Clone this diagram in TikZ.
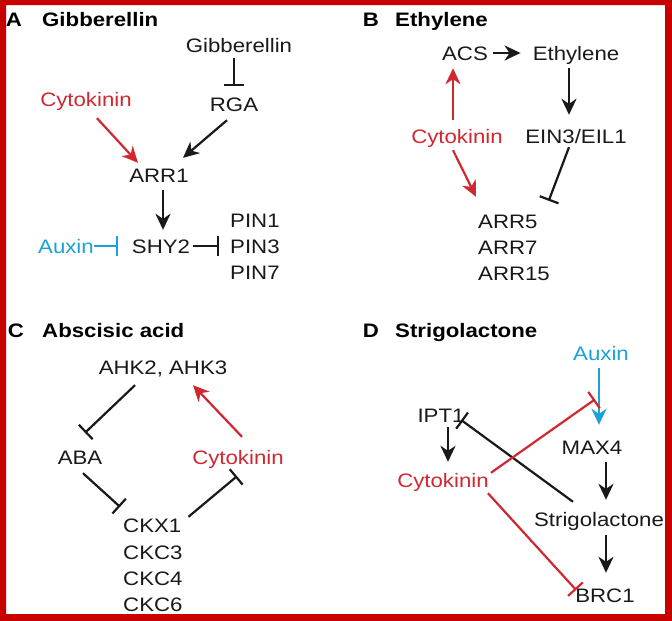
\documentclass[tikz,border=0pt]{standalone}
\usepackage{fontspec}
\setmainfont[FakeStretch=1.14]{Liberation Sans}
\usetikzlibrary{arrows.meta,calc}
\definecolor{ckred}{RGB}{208,40,48}
\definecolor{auxblue}{RGB}{28,162,212}
\definecolor{framered}{RGB}{200,0,0}
\definecolor{ink}{RGB}{25,25,25}
\tikzset{
  gene/.style={inner sep=0pt, text height=14pt, text depth=0pt, font=\fontsize{19.5pt}{23pt}\selectfont},
  head/.style={gene, text=black, font=\fontsize{19.5pt}{23pt}\selectfont\bfseries},
  act/.style={-{Stealth[length=16pt,width=15pt,inset=5pt]}, line width=2.2pt},
  inh/.style={-{Bar[width=20pt]}, line width=2.2pt},
}

\begin{document}
\begin{tikzpicture}[x=1pt, y=-1pt, color=ink]
  \useasboundingbox (0,0) rectangle (672,621);
  \fill[white] (0,0) rectangle (672,621);

  % A
  \node[head] (labA) at (14,20) {A};
  \node[head, anchor=west] (titA) at (42,20) {Gibberellin};
  \node[gene] (gibA) at (239,45) {Gibberellin};
  \node[gene] (rgaA) at (234,104) {RGA};
  \node[gene, text=ckred] (cytA) at (86,99) {Cytokinin};
  \node[gene] (arr1) at (159,175) {ARR1};
  \node[gene] (shy2) at (161,246) {SHY2};
  \node[gene, text=auxblue] (auxA) at (66,246) {Auxin};
  \node[gene, anchor=west] (pin1) at (230,220) {PIN1};
  \node[gene, anchor=west] (pin3) at (230,246) {PIN3};
  \node[gene, anchor=west] (pin7) at (230,272) {PIN7};
  \draw[inh, shorten <=6pt, shorten >=11pt] (gibA.south -| rgaA) -- (rgaA.north);
  \draw[act, ckred] ([shift={(11,12)}]cytA.south) -- ([shift={(-21,-5)}]arr1.north);
  \draw[act] ([shift={(-7,9)}]rgaA.south) -- ([shift={(24,-10)}]arr1.north);
  \draw[act] ([shift={(4,8)}]arr1.south) -- ([shift={(2,-9)}]shy2.north);
  \draw[inh, auxblue, shorten >=14pt] (auxA) -- (shy2);
  \draw[inh, shorten <=3pt, shorten >=11pt] (shy2) -- (pin3);

  % B
  \node[head] (labB) at (371,20) {B};
  \node[head, anchor=west] (titB) at (395,20) {Ethylene};
  \node[gene] (acs) at (465,53) {ACS};
  \node[gene] (eth) at (576,53) {Ethylene};
  \node[gene] (ein3) at (576,136) {EIN3/EIL1};
  \node[gene, text=ckred] (cytB) at (457,136) {Cytokinin};
  \node[gene, anchor=west] (arr5) at (478,221) {ARR5};
  \node[gene, anchor=west] (arr7) at (478,247) {ARR7};
  \node[gene, anchor=west] (arr15) at (478,273) {ARR15};
  \draw[act, shorten <=5pt, shorten >=12pt] (acs) -- (eth);
  \draw[act] ([shift={(-7,8)}]eth.south) -- ([shift={(-7,-14)}]ein3.north);
  \draw[act, ckred] ([shift={(-4,-9)}]cytB.north) -- ([shift={(-12,8)}]acs.south);
  \draw[act, ckred] ([shift={(-4,7)}]cytB.south) -- ([shift={(-2,-17)}]arr5.north west);
  \draw[inh] ([shift={(-7,4)}]ein3.south) -- ([shift={(11,-13)}]arr5.north east);

  % C
  \node[head] (labC) at (16,330) {C};
  \node[head, anchor=west] (titC) at (42,330) {Abscisic acid};
  \node[gene] (ahk) at (163,367) {AHK2, AHK3};
  \node[gene] (aba) at (80,457) {ABA};
  \node[gene, text=ckred] (cytC) at (238,457) {Cytokinin};
  \node[gene, anchor=west] (ckx1) at (123,525) {CKX1};
  \node[gene, anchor=west] (ckc3) at (123,552) {CKC3};
  \node[gene, anchor=west] (ckc4) at (123,578) {CKC4};
  \node[gene, anchor=west] (ckc6) at (123,604) {CKC6};
  \draw[inh] ([shift={(-28,11)}]ahk.south) -- ([shift={(5,-17)}]aba.north);
  \draw[act, ckred] ([shift={(4,-13)}]cytC.north) -- ([shift={(30,11)}]ahk.south);
  \draw[inh] ([shift={(3,9)}]aba.south) -- ([shift={(-3,-11)}]ckx1.north west);
  \draw[inh] ([shift={(7,-1)}]ckx1.north east) -- ([shift={(-1,12)}]cytC.south);

  % D
  \node[head] (labD) at (371,330) {D};
  \node[head, anchor=west] (titD) at (395,330) {Strigolactone};
  \node[gene, text=auxblue] (auxD) at (601,353) {Auxin};
  \node[gene] (ipt1) at (441,415) {IPT1};
  \node[gene, text=ckred] (cytD) at (443,480) {Cytokinin};
  \node[gene] (max4) at (592,447) {MAX4};
  \node[gene] (strig) at (599,519) {Strigolactone};
  \node[gene] (brc1) at (605,595) {BRC1};
  \draw[act, auxblue] ([shift={(-2,8)}]auxD.south) -- coordinate[pos=0.5] (auxmid) ([shift={(7,-15)}]max4.north);
  \draw[act] ([shift={(7,5)}]ipt1.south) -- ([shift={(5,-11)}]cytD.north);
  \draw[act] ([shift={(14,8)}]max4.south) -- ([shift={(7,-12)}]strig.north);
  \draw[act] ([shift={(7,9)}]strig.south) -- ([shift={(1,-15)}]brc1.north);
  \draw[inh] ([shift={(-26,-10)}]strig.north) -- ([shift={(-3.5,5)}]ipt1.east);
  \draw[inh, ckred, shorten >=5pt] ([shift={(2,0)}]cytD.north east) -- (auxmid);
  \draw[inh, ckred] ([shift={(-1,6)}]cytD.south east) -- ([shift={(1,-5)}]brc1.west);

  % frame
  \fill[framered, even odd rule] (0,0) rectangle (672,621) (6,5) rectangle (665,614);
\end{tikzpicture}
\end{document}
